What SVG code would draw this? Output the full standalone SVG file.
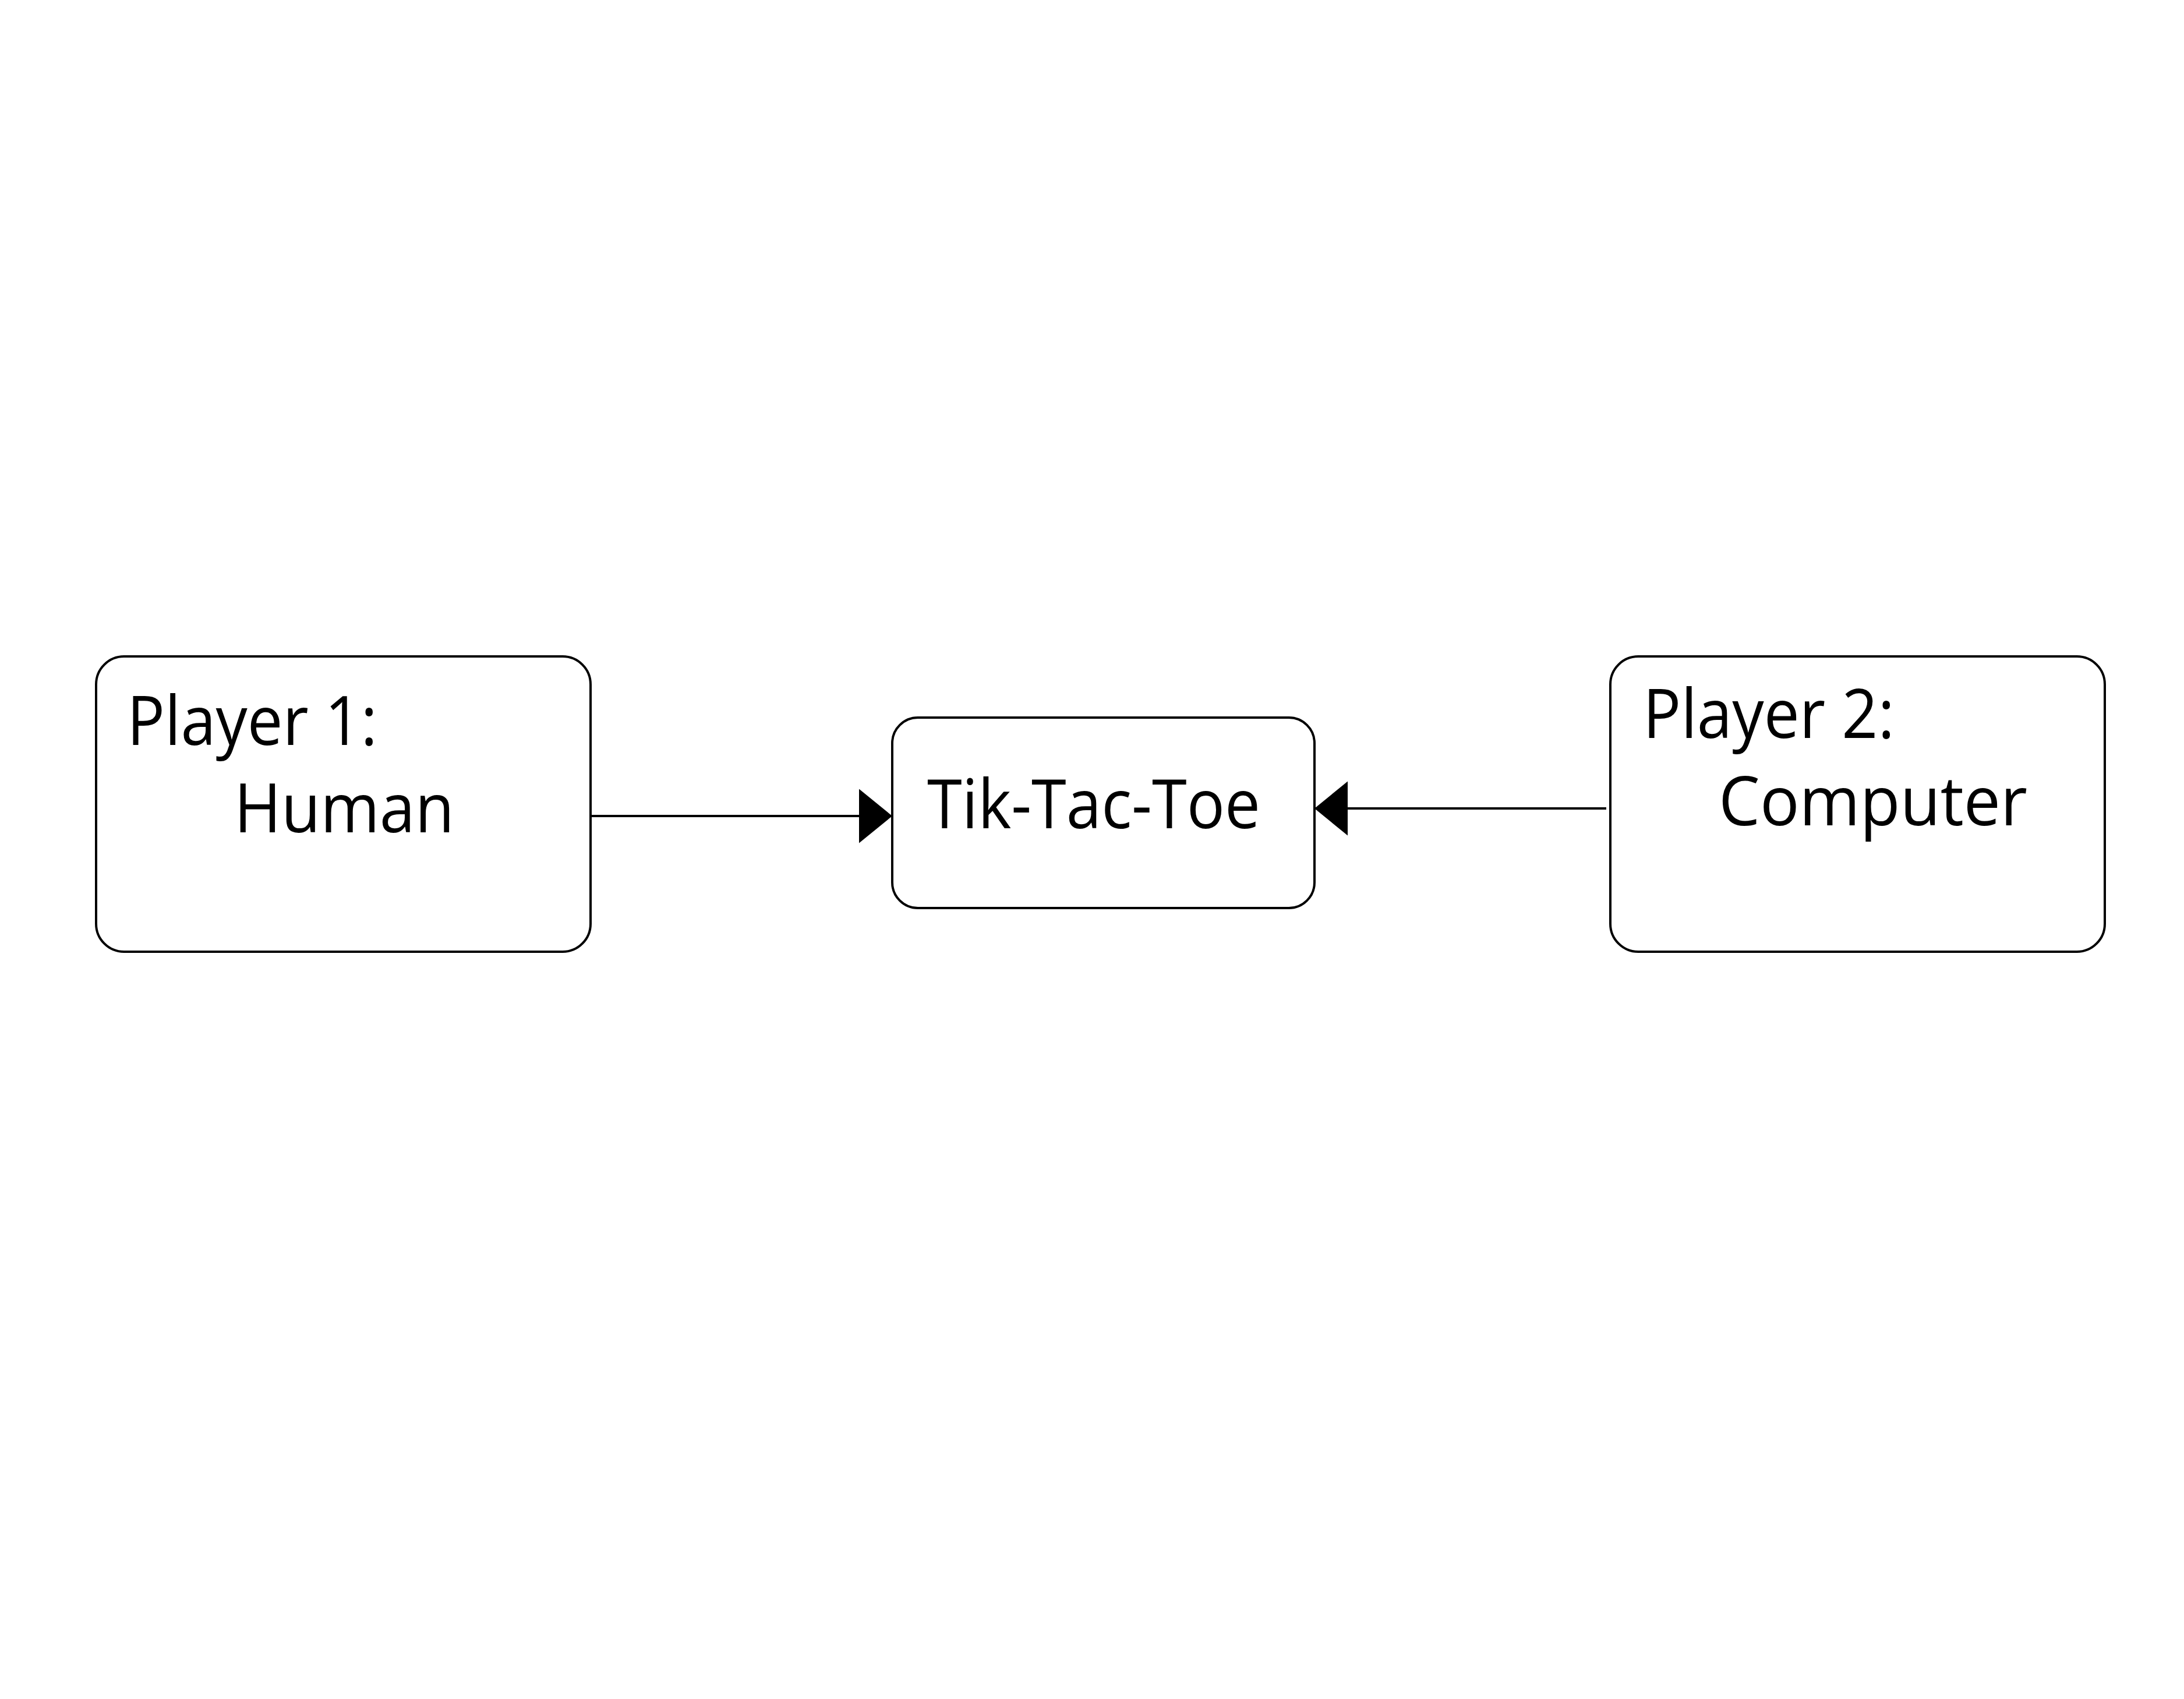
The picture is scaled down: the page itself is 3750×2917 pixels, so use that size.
<svg xmlns="http://www.w3.org/2000/svg" width="3750" height="2917" viewBox="0 0 3750 2917">
<style>
.box{fill:#fff;stroke:#000;stroke-width:4}
.lbl{font-family:"Open Sans","Noto Sans",sans-serif;font-size:118px;fill:#000}
.conn{stroke:#000;stroke-width:4;fill:none}
</style>
<defs>
<marker id="ah" markerUnits="userSpaceOnUse" markerWidth="58" markerHeight="94" refX="57" refY="46.5" orient="auto" viewBox="0 0 58 94">
<path d="M0,0 L57,46.5 L0,93 Z" fill="#000"/>
</marker>
</defs>
<rect width="3750" height="2917" fill="#fff"/>
<g id="player1">
<rect class="box" x="165" y="1127" width="849" height="507" rx="48" ry="48"/>
<text class="lbl" x="218" y="1279" textLength="430" lengthAdjust="spacingAndGlyphs">Player 1:</text>
<text class="lbl" x="402" y="1429" textLength="378" lengthAdjust="spacingAndGlyphs">Human</text>
</g>
<g id="game">
<rect class="box" x="1532" y="1232" width="725" height="327" rx="44" ry="44"/>
<text class="lbl" x="1592" y="1422" textLength="572" lengthAdjust="spacingAndGlyphs">Tik-Tac-Toe</text>
</g>
<g id="player2">
<rect class="box" x="2765" y="1127" width="849" height="507" rx="48" ry="48"/>
<text class="lbl" x="2821" y="1267" textLength="432" lengthAdjust="spacingAndGlyphs">Player 2:</text>
<text class="lbl" x="2951" y="1417" textLength="530" lengthAdjust="spacingAndGlyphs">Computer</text>
</g>
<g id="connectors">
<line class="conn" x1="1014" y1="1401" x2="1532" y2="1401" marker-end="url(#ah)"/>
<line class="conn" x1="2758" y1="1388" x2="2257" y2="1388" marker-end="url(#ah)"/>
</g>
</svg>
